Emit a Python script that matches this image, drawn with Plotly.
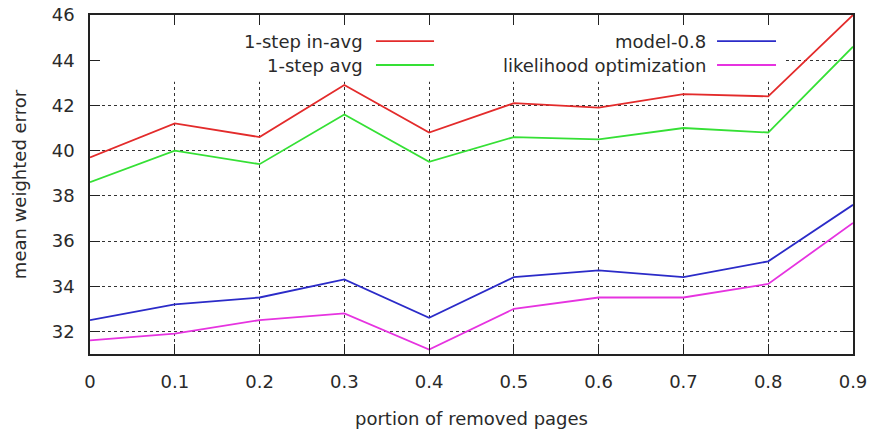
import plotly.graph_objects as go

x_vals = [0, 0.1, 0.2, 0.3, 0.4, 0.5, 0.6, 0.7, 0.8, 0.9]
x_ticktext = ["0", "0.1", "0.2", "0.3", "0.4", "0.5", "0.6", "0.7", "0.8", "0.9"]
y_ticks = [32, 34, 36, 38, 40, 42, 44, 46]

one_step_in_avg = [39.7, 41.2, 40.6, 42.9, 40.8, 42.1, 41.9, 42.5, 42.4, 46.0]
one_step_avg = [38.6, 40.0, 39.4, 41.6, 39.5, 40.6, 40.5, 41.0, 40.8, 44.6]
model_08 = [32.5, 33.2, 33.5, 34.3, 32.6, 34.4, 34.7, 34.4, 35.1, 37.6]
likelihood_opt = [31.6, 31.9, 32.5, 32.8, 31.2, 33.0, 33.5, 33.5, 34.1, 36.8]

names = ["1-step in-avg", "1-step avg", "model-0.8", "likelihood optimization"]
series = [one_step_in_avg, one_step_avg, model_08, likelihood_opt]
colors = ["#e32b2b", "#35e035", "#2b2bc8", "#e633e0"]

FONT = "DejaVu Sans"
FS = 18
TXT = "#2a2a2a"

fig = go.Figure()
for nm, ys, c in zip(names, series, colors):
    fig.add_trace(go.Scatter(x=x_vals, y=ys, mode="lines", name=nm,
                             line=dict(color=c, width=1.8), showlegend=False))

# opaque key box (hides grid under the key)
fig.add_shape(type="rect", xref="x", yref="y", x0=0.0, x1=0.82, y0=43.05, y1=46,
              fillcolor="white", line=dict(width=0), layer="between")

# manual gnuplot-style key: text right-aligned, sample to the right
key_rows = [0.923, 0.8525]
key_cols = [(0.3604, 0.3748, 0.4509), (0.810, 0.8218, 0.8991)]
for i, (nm, c) in enumerate(zip(names, colors)):
    col = key_cols[i // 2]
    row = key_rows[i % 2]
    fig.add_annotation(x=col[0], y=row, xref="paper", yref="paper", text=nm,
                       showarrow=False, xanchor="right", yanchor="middle",
                       font=dict(family=FONT, size=FS, color=TXT))
    fig.add_shape(type="line", xref="paper", yref="paper", x0=col[1], x1=col[2],
                  y0=row, y1=row, line=dict(color=c, width=1.8))

axis_common = dict(showline=True, linecolor="#222", linewidth=1.5, mirror="allticks",
                   ticks="inside", ticklen=10, tickwidth=1.2, tickcolor="#222",
                   showgrid=True, gridcolor="#333", griddash="dot", gridwidth=1,
                   zeroline=False, automargin=False,
                   tickfont=dict(family=FONT, size=FS, color=TXT))

fig.update_xaxes(range=[0, 0.9], tickvals=x_vals, ticktext=x_ticktext,
                 ticklabelstandoff=11,
                 title=dict(text="portion of removed pages", standoff=21,
                            font=dict(family=FONT, size=FS, color=TXT)),
                 **axis_common)
fig.update_yaxes(range=[31, 46], tickvals=y_ticks, ticklabelstandoff=10,
                 title=dict(text="mean weighted error", standoff=20,
                            font=dict(family=FONT, size=FS, color=TXT)),
                 **axis_common)

fig.update_layout(width=873, height=431, margin=dict(l=90, r=20, t=15, b=77),
                  paper_bgcolor="white", plot_bgcolor="white",
                  font=dict(family=FONT, size=FS, color=TXT))

fig.write_html("out.html", config={"displayModeBar": False},
               post_script="document.body.style.margin='0';document.body.style.overflow='hidden';")
